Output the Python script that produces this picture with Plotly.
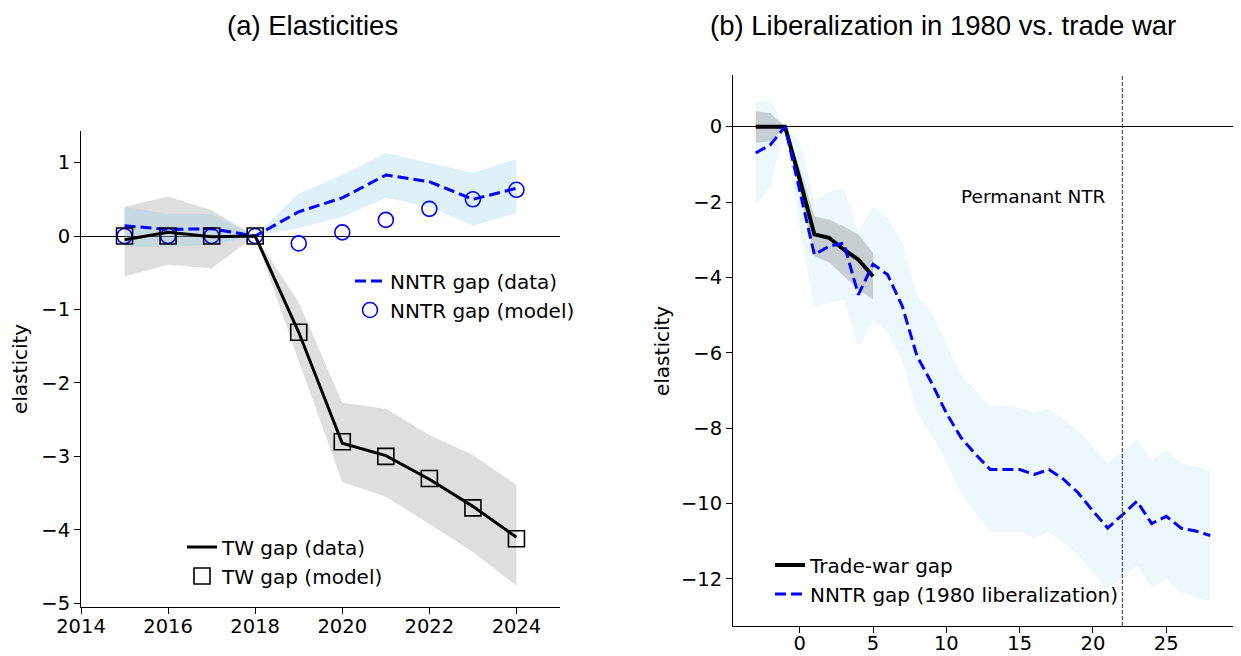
import plotly.graph_objects as go

# ---------------- Panel (a): Elasticities ----------------
years = [2015, 2016, 2017, 2018, 2019, 2020, 2021, 2022, 2023, 2024]
tw_data = [-0.05, 0.05, -0.01, 0.0, -1.31, -2.82, -2.99, -3.31, -3.68, -4.10]
tw_upper = [0.40, 0.54, 0.35, 0.0, -0.90, -2.27, -2.35, -2.71, -2.98, -3.39]
tw_lower = [-0.55, -0.39, -0.44, 0.0, -1.70, -3.35, -3.55, -3.92, -4.30, -4.76]
tw_model = [0.0, 0.0, 0.0, 0.0, -1.31, -2.80, -3.00, -3.30, -3.70, -4.12]
nntr_data = [0.14, 0.09, 0.10, 0.0, 0.33, 0.52, 0.83, 0.74, 0.50, 0.65]
nntr_upper = [0.40, 0.30, 0.30, 0.0, 0.58, 0.83, 1.13, 0.99, 0.86, 1.05]
nntr_lower = [-0.15, -0.15, -0.12, 0.0, 0.11, 0.26, 0.52, 0.40, 0.14, 0.31]
nntr_model = [0.0, 0.0, 0.0, 0.0, -0.10, 0.05, 0.22, 0.37, 0.50, 0.63]

a_xticks = [2014, 2016, 2018, 2020, 2022, 2024]
a_yticks = [1, 0, -1, -2, -3, -4, -5]

# ---------------- Panel (b): Liberalization vs trade war ----------------
tw_h = [-3, -2, -1, 0, 1, 2, 3, 4, 5]
tw_gap = [0.0, 0.0, 0.0, -1.40, -2.86, -2.95, -3.26, -3.53, -3.97]
tw_gap_upper = [0.41, 0.36, 0.0, -1.10, -2.38, -2.47, -2.64, -2.86, -3.35]
tw_gap_lower = [-0.43, -0.39, 0.0, -1.75, -3.44, -3.60, -3.97, -4.32, -4.59]

lib_h = list(range(-3, 29))
lib_gap = [-0.70, -0.48, 0.0, -1.70, -3.40, -3.17, -3.09, -4.46, -3.65, -3.93,
           -4.77, -6.09, -6.80, -7.60, -8.25, -8.70, -9.10, -9.10, -9.10, -9.23,
           -9.10, -9.36, -9.72, -10.20, -10.65, -10.30, -9.94, -10.53, -10.34,
           -10.65, -10.73, -10.85]
lib_upper = [0.67, 0.70, 0.0, -0.39, -1.94, -1.72, -1.63, -2.80, -2.11, -2.42,
             -3.08, -4.46, -4.94, -5.73, -6.58, -7.02, -7.43, -7.40, -7.46, -7.58,
             -7.48, -7.77, -8.08, -8.48, -8.92, -8.61, -8.30, -8.85, -8.59,
             -8.92, -9.01, -9.12]
lib_lower = [-2.07, -1.60, 0.0, -2.70, -4.80, -4.68, -4.59, -5.86, -5.16, -5.47,
             -6.22, -7.60, -8.21, -8.92, -9.72, -10.25, -10.76, -10.76, -10.76,
             -10.91, -10.77, -11.04, -11.40, -11.84, -12.28, -11.97, -11.66,
             -12.23, -12.02, -12.37, -12.49, -12.59]

b_xticks = [0, 5, 10, 15, 20, 25]
b_yticks = [0, -2, -4, -6, -8, -10, -12]
permanent_ntr_h = 22

TICK_FONT = dict(family="DejaVu Sans", size=19.5, color="black")
LEG_FONT = dict(family="DejaVu Sans", size=20, color="black")
TITLE_FONT = dict(family="Liberation Sans, Arial, sans-serif", size=27.5, color="black")

# The page body has an 8px margin; layout positions below are given in page pixels
OFF = 8
W, H = 1241 - OFF, 656 - OFF


def px(p):
    return (p - OFF) / W


def py(p):
    return 1 - (p - OFF) / H


def minus(v):
    return str(v).replace("-", "\u2212")


def band(x, up, lo, color, xa, ya):
    return go.Scatter(x=list(x) + list(x)[::-1], y=list(up) + list(lo)[::-1],
                      fill="toself", fillcolor=color, line=dict(width=0),
                      mode="lines", showlegend=False, hoverinfo="skip",
                      xaxis=xa, yaxis=ya)


fig = go.Figure()

# Panel (a)
fig.add_trace(band(years, tw_upper, tw_lower, "rgba(128,128,128,0.26)", "x", "y"))
fig.add_trace(band(years, nntr_upper, nntr_lower, "rgba(135,206,235,0.28)", "x", "y"))
fig.add_trace(go.Scatter(x=years, y=nntr_data, mode="lines", name="NNTR gap (data)",
                         line=dict(color="blue", width=3, dash="11px,5px"),
                         legend="legend", xaxis="x", yaxis="y"))
fig.add_trace(go.Scatter(x=years, y=nntr_model, mode="markers", name="NNTR gap (model)",
                         marker=dict(symbol="circle-open", size=15, color="blue",
                                     line=dict(width=1.6, color="blue")),
                         legend="legend", xaxis="x", yaxis="y"))
fig.add_trace(go.Scatter(x=years, y=tw_data, mode="lines", name="TW gap (data)",
                         line=dict(color="black", width=3),
                         legend="legend2", xaxis="x", yaxis="y"))
fig.add_trace(go.Scatter(x=years, y=tw_model, mode="markers", name="TW gap (model)",
                         marker=dict(symbol="square-open", size=16, color="black",
                                     line=dict(width=1.6, color="black")),
                         legend="legend2", xaxis="x", yaxis="y"))

# Panel (b)
fig.add_trace(band(lib_h, lib_upper, lib_lower, "rgba(135,206,235,0.15)", "x2", "y2"))
fig.add_trace(band(tw_h, tw_gap_upper, tw_gap_lower, "rgba(128,128,128,0.35)", "x2", "y2"))
fig.add_trace(go.Scatter(x=tw_h, y=tw_gap, mode="lines", name="Trade-war gap",
                         line=dict(color="black", width=4),
                         legend="legend3", xaxis="x2", yaxis="y2"))
fig.add_trace(go.Scatter(x=lib_h, y=lib_gap, mode="lines",
                         name="NNTR gap (1980 liberalization)",
                         line=dict(color="blue", width=3, dash="11px,5px"),
                         legend="legend3", xaxis="x2", yaxis="y2"))

axis_common = dict(showline=True, linecolor="black", linewidth=1, mirror=False,
                   ticks="outside", ticklen=6, tickwidth=1, tickcolor="black",
                   showgrid=False, tickfont=TICK_FONT, automargin=False)

fig.update_layout(
    width=W, height=H, autosize=False,
    margin=dict(l=0, r=0, t=0, b=0, autoexpand=False),
    paper_bgcolor="white", plot_bgcolor="white",
    xaxis=dict(domain=[px(81), px(560)], range=[2014, 2025], anchor="y",
               tickvals=a_xticks, ticktext=[str(t) for t in a_xticks],
               zeroline=False, ticklabelstandoff=-4, **axis_common),
    yaxis=dict(domain=[py(607), py(131)], range=[-5.05, 1.43], anchor="x",
               tickvals=a_yticks, ticktext=[minus(t) for t in a_yticks],
               zeroline=True, zerolinecolor="black", zerolinewidth=1, **axis_common),
    xaxis2=dict(domain=[px(733), px(1233)], range=[-4.55, 29.55], anchor="y2",
                tickvals=b_xticks, ticktext=[str(t) for t in b_xticks],
                zeroline=False, ticklabelstandoff=-6, **axis_common),
    yaxis2=dict(domain=[py(626), py(75)], range=[-13.25, 1.37], anchor="x2",
                tickvals=b_yticks, ticktext=[minus(t) for t in b_yticks],
                zeroline=True, zerolinecolor="black", zerolinewidth=1, **axis_common),
    legend=dict(x=px(350), y=py(261.5), xanchor="left", yanchor="top",
                bgcolor="rgba(0,0,0,0)", borderwidth=0, font=LEG_FONT),
    legend2=dict(x=px(182), y=py(527.5), xanchor="left", yanchor="top",
                 bgcolor="rgba(0,0,0,0)", borderwidth=0, font=LEG_FONT),
    legend3=dict(x=px(770), y=py(545.5), xanchor="left", yanchor="top",
                 bgcolor="rgba(0,0,0,0)", borderwidth=0, font=LEG_FONT),
    shapes=[dict(type="line", xref="x2", yref="y2 domain", x0=permanent_ntr_h,
                 x1=permanent_ntr_h, y0=0, y1=1,
                 line=dict(color="#333333", width=1, dash="4px,2px"))],
    annotations=[
        dict(text="(a) Elasticities", xref="paper", yref="paper", x=px(312), y=1.0,
             xanchor="center", yanchor="top", showarrow=False, font=TITLE_FONT),
        dict(text="(b) Liberalization in 1980 vs. trade war", xref="paper", yref="paper",
             x=px(943), y=1.0, xanchor="center", yanchor="top", showarrow=False,
             font=TITLE_FONT),
        dict(text="elasticity", xref="paper", yref="paper", x=px(20), y=py(369),
             xanchor="center", yanchor="middle", textangle=-90, showarrow=False,
             font=LEG_FONT),
        dict(text="elasticity", xref="paper", yref="paper", x=px(662), y=py(351),
             xanchor="center", yanchor="middle", textangle=-90, showarrow=False,
             font=LEG_FONT),
        dict(text="Permanant NTR", xref="x2", yref="y2", x=21.04, y=-1.85,
             xanchor="right", yanchor="middle", showarrow=False,
             font=dict(family="DejaVu Sans", size=18.5, color="black")),
    ],
)

fig.write_html("out.html")
